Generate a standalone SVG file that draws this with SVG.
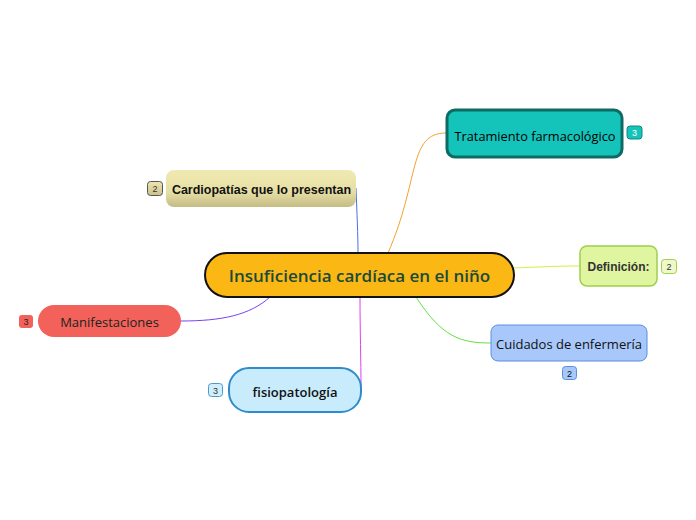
<svg xmlns="http://www.w3.org/2000/svg" width="696" height="520" viewBox="0 0 696 520">
<defs>
<linearGradient id="gCard" x1="0" y1="0" x2="0" y2="1">
<stop offset="0" stop-color="#f0eab2"/>
<stop offset="0.6" stop-color="#e6dfa4"/>
<stop offset="1" stop-color="#c4bb85"/>
</linearGradient>
<linearGradient id="gBadgeCard" x1="0" y1="0" x2="0" y2="1">
<stop offset="0" stop-color="#eee6b0"/>
<stop offset="1" stop-color="#c9c08a"/>
</linearGradient>
</defs>
<style>
.conn{fill:none;stroke-width:1}
.badge-t{font-family:"Liberation Sans",Arial,sans-serif;font-size:9px;text-anchor:middle}
.lbl{text-anchor:middle;dominant-baseline:central}
</style>
<rect width="696" height="520" fill="#ffffff"/>
<g id="connectors">
<path class="conn" stroke="#4a6ee8" d="M356,188 C357,215 358,235 358,253"/>
<path class="conn" stroke="#f5a030" d="M388,253 C420,180 408,133 446,133"/>
<path class="conn" stroke="#d4f040" d="M513,268 C540,267 555,266 580,266"/>
<path class="conn" stroke="#66e040" d="M416,297 C442,337 460,343 491,343"/>
<path class="conn" stroke="#7b3ff0" d="M270,297 C250,315 222,321 181,321"/>
<path class="conn" stroke="#e040f0" d="M360,297 C360,330 361,360 361,390"/>
</g>
<g id="node-central">
<rect x="205" y="253" width="309" height="44" rx="22" fill="#fbb714" stroke="#111" stroke-width="2"/>
<text class="lbl" x="359.5" y="275" font-family="Open Sans,sans-serif" font-weight="600" font-size="17" fill="#1a4a3a">Insuficiencia cardíaca en el niño</text>
</g>
<g id="node-tratamiento">
<rect x="447" y="110" width="175" height="47" rx="8" fill="#14c4bb" stroke="#0e6b63" stroke-width="3"/>
<text class="lbl" x="535" y="136" font-family="Open Sans,sans-serif" font-size="12.8" fill="#000">Tratamiento farmacológico</text>
<rect x="627" y="126" width="15" height="13" rx="3" fill="#14c4bb" stroke="#0e8a82" stroke-width="1"/>
<text class="badge-t" x="634.5" y="136" fill="#ffffff">3</text>
</g>
<g id="node-cardiopatias">
<rect x="166" y="170" width="190" height="37" rx="8" fill="url(#gCard)"/>
<text class="lbl" x="261.5" y="190" font-family="Liberation Sans,Arial,sans-serif" font-weight="bold" font-size="12.5" fill="#111">Cardiopatías que lo presentan</text>
<rect x="147.5" y="181.5" width="15" height="14" rx="3" fill="url(#gBadgeCard)" stroke="#555" stroke-width="1"/>
<text class="badge-t" x="155" y="192" fill="#333">2</text>
</g>
<g id="node-definicion">
<rect x="580" y="246" width="77" height="40" rx="7" fill="#dff5a0" stroke="#9fd04a" stroke-width="1.5"/>
<text class="lbl" x="618.5" y="267" font-family="Liberation Sans,Arial,sans-serif" font-weight="bold" font-size="12" fill="#333">Definición:</text>
<rect x="661.5" y="259.5" width="15" height="14" rx="3" fill="#eef8c8" stroke="#9fd04a" stroke-width="1"/>
<text class="badge-t" x="669" y="270" fill="#333">2</text>
</g>
<g id="node-cuidados">
<rect x="491" y="325" width="156" height="36" rx="7" fill="#a8c8fb" stroke="#5a8ee0" stroke-width="1"/>
<text class="lbl" x="569" y="344" font-family="Open Sans,sans-serif" font-size="13" fill="#111">Cuidados de enfermería</text>
<rect x="562.5" y="366.5" width="14" height="13" rx="3" fill="#a8c8fb" stroke="#5a8ee0" stroke-width="1"/>
<text class="badge-t" x="569.5" y="376.5" fill="#111">2</text>
</g>
<g id="node-manifestaciones">
<rect x="38" y="305" width="143" height="32" rx="16" fill="#f2625a"/>
<text class="lbl" x="109.5" y="322" font-family="Open Sans,sans-serif" font-size="13" fill="#222">Manifestaciones</text>
<rect x="19" y="315" width="14" height="13" rx="3" fill="#f2625a"/>
<text class="badge-t" x="26" y="325" fill="#222">3</text>
</g>
<g id="node-fisiopatologia">
<rect x="229" y="368" width="132" height="44" rx="20" fill="#c8ecfc" stroke="#2f8ccc" stroke-width="2"/>
<text class="lbl" x="295" y="392" font-family="Open Sans,sans-serif" font-weight="600" font-size="13" fill="#111">fisiopatología</text>
<rect x="208.5" y="383.5" width="14" height="13" rx="3" fill="#d0eefc" stroke="#4a9ad0" stroke-width="1"/>
<text class="badge-t" x="215.5" y="393.5" fill="#333">3</text>
</g>
</svg>
